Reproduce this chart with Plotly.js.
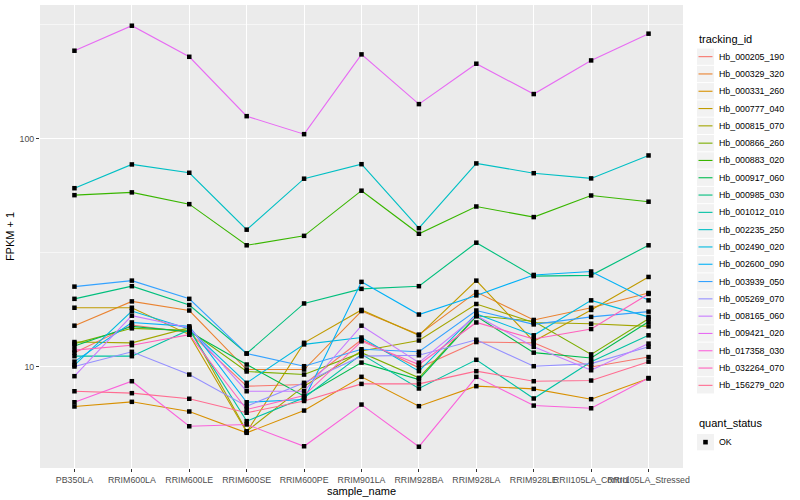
<!DOCTYPE html>
<html>
<head>
<meta charset="utf-8">
<script src="https://cdn.plot.ly/plotly-3.0.1.min.js"></script>
<style>html,body{margin:0;padding:0;background:#fff;}#chart{width:800px;height:500px;}</style>
</head>
<body>
<div id="chart"></div>
<script>
// Categories (x axis)
const samples = ["PB350LA","RRIM600LA","RRIM600LE","RRIM600SE","RRIM600PE","RRIM901LA","RRIM928BA","RRIM928LA","RRIM928LE","RRII105LA_Control","RRII105LA_Stressed"];

// Series names
const trackingIds = ["Hb_000205_190","Hb_000329_320","Hb_000331_260","Hb_000777_040","Hb_000815_070","Hb_000866_260","Hb_000883_020","Hb_000917_060","Hb_000985_030","Hb_001012_010","Hb_002235_250","Hb_002490_020","Hb_002600_090","Hb_003939_050","Hb_005269_070","Hb_008165_060","Hb_009421_020","Hb_017358_030","Hb_032264_070","Hb_156279_020"];

// FPKM + 1 values per series (one value per sample)
const hb_000205_190 = [11.5, 15.2, 14.1, 8.20, 8.34, 13.1, 9.87, 12.8, 12.7, 9.95, 11.0];
const hb_000329_320 = [15.1, 19.3, 17.6, 9.70, 9.70, 17.5, 13.8, 21.2, 16.0, 18.1, 21.0];
const hb_000331_260 = [6.68, 7.00, 6.35, 5.12, 6.41, 9.01, 6.70, 8.20, 7.98, 7.19, 8.86];
const hb_000777_040 = [18.1, 18.1, 13.8, 5.16, 12.7, 17.7, 13.7, 23.8, 12.9, 17.7, 24.7];
const hb_000815_070 = [12.8, 12.7, 14.8, 5.20, 8.20, 11.7, 13.0, 18.8, 15.6, 15.4, 15.0];
const hb_000866_260 = [12.6, 14.7, 14.4, 9.51, 9.22, 11.5, 8.92, 16.7, 15.8, 11.3, 16.2];
const hb_000883_020 = [56.4, 58.0, 51.5, 34.0, 37.4, 59.0, 38.2, 50.3, 45.2, 56.2, 52.8];
const hb_000917_060 = [12.3, 15.0, 14.2, 10.2, 7.41, 10.4, 8.77, 16.6, 11.5, 10.9, 15.7];
const hb_000985_030 = [19.8, 22.5, 18.6, 11.4, 18.9, 21.9, 22.5, 34.9, 24.9, 25.1, 34.0];
const hb_001012_010 = [11.1, 11.1, 14.5, 5.76, 7.29, 11.3, 8.01, 10.7, 7.24, 10.5, 13.7];
const hb_002235_250 = [60.5, 76.9, 70.7, 39.8, 66.6, 77.1, 40.4, 77.7, 70.4, 66.8, 84.2];
const hb_002490_020 = [10.15, 17.5, 14.6, 8.48, 12.5, 13.4, 9.54, 17.0, 13.7, 19.5, 16.5];
const hb_002600_090 = [10.5, 15.6, 15.0, 6.97, 7.17, 23.5, 16.9, 20.5, 25.2, 26.1, 19.5];
const hb_003939_050 = [22.4, 23.8, 19.8, 11.4, 10.03, 11.9, 11.6, 17.6, 15.3, 16.5, 17.4];
const hb_005269_070 = [10.0, 11.6, 9.22, 6.70, 8.48, 11.1, 11.2, 13.1, 10.03, 10.3, 12.2];
const hb_008165_060 = [9.07, 16.7, 14.8, 7.79, 7.79, 15.1, 10.4, 16.7, 12.2, 9.63, 12.6];
const hb_009421_020 = [242.4, 312.0, 228.0, 125.2, 104.4, 233.6, 141.4, 212.6, 156.5, 219.8, 287.9];
const hb_017358_030 = [6.97, 8.62, 5.47, 5.57, 4.47, 6.81, 4.45, 9.01, 6.74, 6.56, 8.90];
const hb_032264_070 = [11.8, 12.4, 13.8, 6.48, 7.46, 12.9, 10.2, 15.6, 13.2, 14.6, 20.8];
const hb_156279_020 = [7.79, 7.64, 7.22, 6.27, 7.06, 8.39, 8.39, 9.54, 8.62, 8.68, 10.5];

const quantStatus = ["OK"];

// Y-axis tick labels
const yTickVals = [10, 100];
const yTickText = ["10", "100"];
const yMinorVals = [3.1623, 31.623, 316.23];

const seriesValues = [hb_000205_190, hb_000329_320, hb_000331_260, hb_000777_040, hb_000815_070, hb_000866_260, hb_000883_020, hb_000917_060, hb_000985_030, hb_001012_010, hb_002235_250, hb_002490_020, hb_002600_090, hb_003939_050, hb_005269_070, hb_008165_060, hb_009421_020, hb_017358_030, hb_032264_070, hb_156279_020];

// ggplot2 hue palette (20 levels)
const palette = ["#F8766D","#EA8331","#D89000","#C09B00","#A3A500","#7CAE00","#39B600","#00BB4E","#00BF7D","#00C1A3","#00BFC4","#00BAE0","#00B0F6","#35A2FF","#9590FF","#C77CFF","#E76BF3","#FA62DB","#FF62BC","#FF6C91"];

const FONT = "Liberation Sans, Arial, Helvetica, sans-serif";
const W = 800, H = 500;
const M = {l: 40, r: 117, t: 5, b: 32};
const PW = W - M.l - M.r, PH = H - M.t - M.b;
const toPX = px => (px - M.l) / PW;      // pixel -> paper x
const toPY = py => (H - M.b - py) / PH;  // pixel -> paper y

const traces = trackingIds.map((id, i) => ({
  type: "scatter",
  mode: "lines",
  name: id,
  x: samples,
  y: seriesValues[i],
  line: {color: palette[i], width: 1.1},
  showlegend: false,
  hoverinfo: "x+y+name"
}));

// all points (quant_status = OK)
const px = [], py = [];
seriesValues.forEach(v => v.forEach((val, j) => { px.push(samples[j]); py.push(val); }));
traces.push({
  type: "scatter",
  mode: "markers",
  name: quantStatus[0],
  x: px,
  y: py,
  marker: {color: "#000000", size: 4.5, symbol: "square"},
  showlegend: false
});

// ggplot-style legend built from annotations + shapes
const shapes = [];
const annotations = [];
const keyX0 = 697, keyX1 = 714, keyH = 17.3, keyTop0 = 48;
annotations.push({xref: "paper", yref: "paper", x: toPX(keyX0), y: toPY(39), xanchor: "left", yanchor: "middle",
  text: "tracking_id", showarrow: false, font: {size: 11, color: "#000", family: FONT}});
trackingIds.forEach((id, i) => {
  const top = keyTop0 + i * keyH, cy = top + keyH / 2;
  shapes.push({type: "rect", xref: "paper", yref: "paper", x0: toPX(keyX0), x1: toPX(keyX1), y0: toPY(top + 0.5), y1: toPY(top + keyH - 0.5),
    fillcolor: "#F2F2F2", line: {width: 0}, layer: "above"});
  shapes.push({type: "line", xref: "paper", yref: "paper", x0: toPX(keyX0 + 1.5), x1: toPX(keyX1 - 1.5), y0: toPY(cy), y1: toPY(cy),
    line: {color: palette[i], width: 1.1}, layer: "above"});
  annotations.push({xref: "paper", yref: "paper", x: toPX(717), y: toPY(cy), xanchor: "left", yanchor: "middle",
    text: id, showarrow: false, font: {size: 8.8, color: "#000", family: FONT}});
});
const qTitleY = 423, qTop = 433.5;
annotations.push({xref: "paper", yref: "paper", x: toPX(keyX0), y: toPY(qTitleY), xanchor: "left", yanchor: "middle",
  text: "quant_status", showarrow: false, font: {size: 11, color: "#000", family: FONT}});
shapes.push({type: "rect", xref: "paper", yref: "paper", x0: toPX(keyX0), x1: toPX(keyX1), y0: toPY(qTop + 0.5), y1: toPY(qTop + keyH - 0.5),
  fillcolor: "#F2F2F2", line: {width: 0}, layer: "above"});
const qcx = (keyX0 + keyX1) / 2, qcy = qTop + keyH / 2;
shapes.push({type: "rect", xref: "paper", yref: "paper", x0: toPX(qcx - 2.3), x1: toPX(qcx + 2.3), y0: toPY(qcy - 2.3), y1: toPY(qcy + 2.3),
  fillcolor: "#000", line: {width: 0}, layer: "above"});
annotations.push({xref: "paper", yref: "paper", x: toPX(717), y: toPY(qcy), xanchor: "left", yanchor: "middle",
  text: quantStatus[0], showarrow: false, font: {size: 8.8, color: "#000", family: FONT}});

const layout = {
  width: W,
  height: H,
  margin: {l: M.l, r: M.r, t: M.t, b: M.b, pad: 0},
  paper_bgcolor: "#FFFFFF",
  plot_bgcolor: "#EBEBEB",
  font: {family: FONT, size: 9, color: "#4D4D4D"},
  showlegend: false,
  shapes: shapes,
  annotations: annotations,
  xaxis: {
    type: "category",
    categoryorder: "array",
    categoryarray: samples,
    range: [-0.6, 10.6],
    showgrid: true,
    gridcolor: "#FFFFFF",
    gridwidth: 1.1,
    zeroline: false,
    showline: false,
    ticks: "outside",
    ticklen: 3,
    tickwidth: 1,
    tickcolor: "#333333",
    tickangle: 0,
    tickfont: {size: 8.8, color: "#4D4D4D", family: FONT},
    automargin: false,
    title: {text: "sample_name", font: {size: 11, color: "#000", family: FONT}, standoff: 0}
  },
  yaxis: {
    type: "log",
    range: [0.555, 2.585],
    tickmode: "array",
    tickvals: yTickVals,
    ticktext: yTickText,
    showgrid: true,
    gridcolor: "#FFFFFF",
    gridwidth: 1.1,
    zeroline: false,
    showline: false,
    ticks: "outside",
    ticklen: 3,
    tickwidth: 1,
    tickcolor: "#333333",
    tickfont: {size: 8.8, color: "#4D4D4D", family: FONT},
    minor: {tickmode: "array", tickvals: yMinorVals, showgrid: true, gridcolor: "#FFFFFF", gridwidth: 0.55, ticks: ""},
    automargin: false,
    title: {text: "FPKM + 1", font: {size: 11, color: "#000", family: FONT}, standoff: 2}
  }
};

Plotly.newPlot("chart", traces, layout, {displayModeBar: false, staticPlot: true});
</script>
</body>
</html>
